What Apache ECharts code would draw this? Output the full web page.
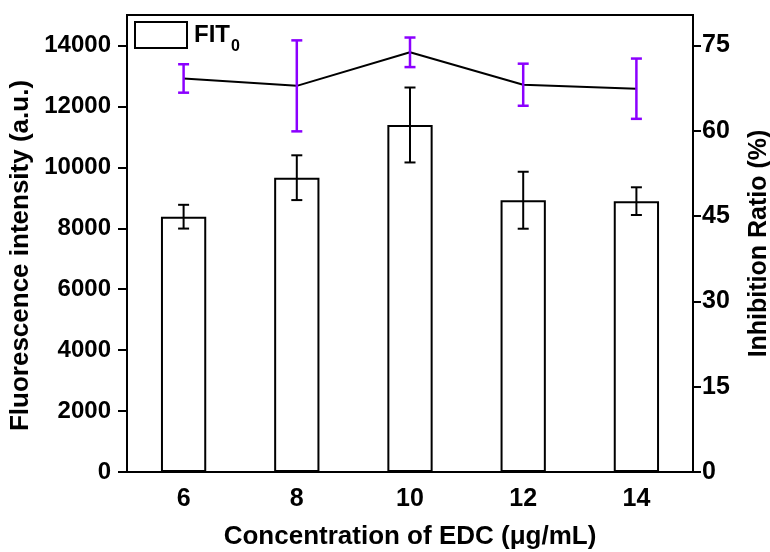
<!DOCTYPE html>
<html>
<head>
<meta charset="utf-8">
<script src="https://cdn.jsdelivr.net/npm/echarts@6/dist/echarts.min.js"></script>
<style>
  html, body { margin: 0; padding: 0; background: #fff; }
  #chart { width: 770px; height: 552px; }
</style>
</head>
<body>
<div id="chart"></div>
<script>
const concentrations = ['6', '8', '10', '12', '14'];
const fitValues = [8380, 9660, 11390, 8920, 8890];
const fitErrors = [390, 735, 1230, 935, 455];
const inhibitionValues = [69.2, 67.9, 73.8, 68.1, 67.4];
const inhibitionErrors = [2.5, 8.0, 2.6, 3.7, 5.3];
const leftTicks = [0, 2000, 4000, 6000, 8000, 10000, 12000, 14000];
const rightTicks = [0, 15, 30, 45, 60, 75];

const FONT = 'Liberation Sans';

// vertical error bar with caps, drawn through the axes
function errorBars(color, width) {
    return function (params, api) {
        const i = api.value(0);
        const v = api.value(1);
        const e = api.value(2);
        const hi = api.coord([i, v + e]);
        const lo = api.coord([i, v - e]);
        const half = 5.5;
        const style = { stroke: color, lineWidth: width };
        return {
            type: 'group',
            children: [
                { type: 'line', shape: { x1: hi[0], y1: hi[1], x2: lo[0], y2: lo[1] }, style: style },
                { type: 'line', shape: { x1: hi[0] - half, y1: hi[1], x2: hi[0] + half, y2: hi[1] }, style: style },
                { type: 'line', shape: { x1: lo[0] - half, y1: lo[1], x2: lo[0] + half, y2: lo[1] }, style: style }
            ]
        };
    };
}

const tickLabel = { color: '#000', fontFamily: FONT, fontWeight: 'bold', fontSize: 24, formatter: v => String(v) };
const titleStyle = { color: '#000', fontFamily: FONT, fontWeight: 'bold', fontSize: 26 };

const chart = echarts.init(document.getElementById('chart'));
chart.setOption({
    animation: false,
    grid: {
        left: 127, right: 77, top: 15, bottom: 80,
        outerBoundsMode: 'none',
        containLabel: false,
        show: true, borderColor: '#000', borderWidth: 2
    },
    legend: {
        left: 134, top: 21, padding: 0,
        itemWidth: 52, itemHeight: 26,
        icon: 'rect',
        data: ['FIT0'],
        formatter: function () { return '{a|FIT}{b|0}'; },
        textStyle: {
            rich: {
                a: { fontFamily: FONT, fontWeight: 'bold', fontSize: 24, color: '#000', padding: [0, 0, 0, 2] },
                b: { fontFamily: FONT, fontWeight: 'bold', fontSize: 16, color: '#000', padding: [24, 0, 0, 1] }
            }
        }
    },
    xAxis: {
        type: 'category',
        data: concentrations,
        boundaryGap: true,
        name: 'Concentration of EDC (μg/mL)',
        nameLocation: 'middle',
        nameGap: 52,
        nameTextStyle: titleStyle,
        axisLine: { lineStyle: { color: '#000', width: 2 } },
        axisTick: { alignWithLabel: true, length: 9, lineStyle: { color: '#000', width: 2 } },
        axisLabel: Object.assign({}, tickLabel, { margin: 15, fontSize: 25 }),
        splitLine: { show: false }
    },
    yAxis: [
        {
            type: 'value',
            min: 0, max: 15000,
            name: 'Fluorescence intensity (a.u.)',
            nameLocation: 'middle',
            nameGap: 87,
            nameTextStyle: Object.assign({}, titleStyle, { padding: [0, 24, 0, 0] }),
            axisLine: { show: true, lineStyle: { color: '#000', width: 2 } },
            axisTick: { show: true, length: 9, customValues: leftTicks, lineStyle: { color: '#000', width: 2 } },
            axisLabel: Object.assign({}, tickLabel, { margin: 16, customValues: leftTicks }),
            splitLine: { show: false }
        },
        {
            type: 'value',
            min: 0, max: 80.36,
            position: 'right',
            name: 'Inhibition Ratio (%)',
            nameLocation: 'middle',
            nameGap: 54,
            nameTextStyle: Object.assign({}, titleStyle, { fontSize: 25 }),
            axisLine: { show: true, lineStyle: { color: '#000', width: 2 } },
            axisTick: { show: true, length: 8, customValues: rightTicks, lineStyle: { color: '#000', width: 2 } },
            axisLabel: Object.assign({}, tickLabel, { margin: 9, fontSize: 25, customValues: rightTicks }),
            splitLine: { show: false }
        }
    ],
    series: [
        {
            name: 'FIT0',
            type: 'bar',
            barWidth: '40%',
            data: fitValues,
            itemStyle: { color: '#fff', borderColor: '#000', borderWidth: 2 }
        },
        {
            type: 'custom',
            renderItem: errorBars('#000', 2),
            data: concentrations.map((c, i) => [i, fitValues[i], fitErrors[i]]),
            z: 3
        },
        {
            type: 'line',
            yAxisIndex: 1,
            data: inhibitionValues,
            symbol: 'none',
            lineStyle: { color: '#000', width: 2 },
            z: 4
        },
        {
            type: 'custom',
            yAxisIndex: 1,
            renderItem: errorBars('#8b00ff', 2.5),
            data: concentrations.map((c, i) => [i, inhibitionValues[i], inhibitionErrors[i]]),
            z: 5
        }
    ]
});
</script>
</body>
</html>
